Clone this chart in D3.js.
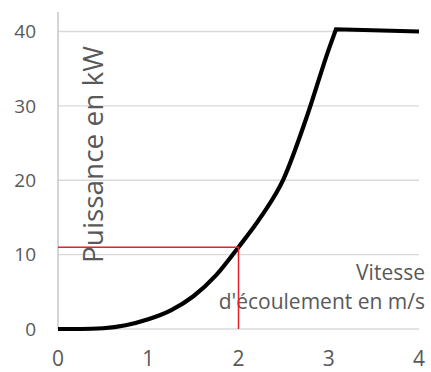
<!DOCTYPE html>
<html>
<head>
<meta charset="utf-8">
<script src="https://cdn.jsdelivr.net/npm/d3@7"></script>
<style>
  body { margin: 0; background: #fff; }
  text { font-family: "Open Sans", sans-serif; fill: #595959; }
</style>
</head>
<body>
<svg width="431" height="372"></svg>
<script>
// vitesse (m/s) et puissance (kW)
var vitesse   = [0, 0.25, 0.5, 0.75, 1, 1.25, 1.5, 1.75, 2, 2.25, 2.5, 2.75, 3, 3.08];
var puissance = [0, 0, 0.1, 0.5, 1.3, 2.5, 4.4, 7.2, 11.0, 15.1, 20.2, 28.3, 37.6, 40.3];
// palier apres la puissance nominale
var palierV = [3.08, 4];
var palierP = [40.3, 40.0];
var xTicks = [0, 1, 2, 3, 4];
var yTicks = [0, 10, 20, 30, 40];
var repereV = 2;
var repereP = 11;

function main() {
  var svg = d3.select("svg");

  var x = d3.scaleLinear().domain([0, 4]).range([58, 419]);
  var y = d3.scaleLinear().domain([0, 40]).range([329, 31.5]);

  // grille horizontale
  svg.selectAll(".grid")
    .data(yTicks)
    .enter()
    .append("line")
    .attr("x1", x(0))
    .attr("x2", x(4))
    .attr("y1", function(d) { return y(d); })
    .attr("y2", function(d) { return y(d); })
    .attr("stroke", "#d9d9d9")
    .attr("stroke-width", 1.3);

  // axe vertical
  svg.append("line")
    .attr("x1", x(0)).attr("x2", x(0))
    .attr("y1", y(0)).attr("y2", 12)
    .attr("stroke", "#bfbfbf")
    .attr("stroke-width", 1.3);

  // etiquettes y
  svg.selectAll(".ylab")
    .data(yTicks)
    .enter()
    .append("text")
    .attr("x", 36)
    .attr("y", function(d) { return y(d); })
    .attr("dy", "0.36em")
    .attr("text-anchor", "end")
    .style("font-size", "19px")
    .text(function(d) { return d; });

  // etiquettes x
  svg.selectAll(".xlab")
    .data(xTicks)
    .enter()
    .append("text")
    .attr("x", function(d) { return x(d); })
    .attr("y", 366)
    .attr("text-anchor", "middle")
    .style("font-size", "21px")
    .text(function(d) { return d; });

  // titres des axes
  svg.append("text")
    .attr("transform", "translate(103,263) rotate(-90)")
    .attr("textLength", 217)
    .attr("lengthAdjust", "spacingAndGlyphs")
    .style("font-size", "28px")
    .text("Puissance en kW");

  svg.append("text")
    .attr("x", 425)
    .attr("y", 280)
    .attr("text-anchor", "end")
    .style("font-size", "21px")
    .text("Vitesse");

  svg.append("text")
    .attr("x", 425)
    .attr("y", 309)
    .attr("text-anchor", "end")
    .style("font-size", "21px")
    .text("d'\u00e9coulement en m/s");

  // courbe de puissance
  var courbe = d3.line()
    .x(function(d, i) { return x(vitesse[i]); })
    .y(function(d) { return y(d); })
    .curve(d3.curveMonotoneX);

  var palier = d3.line()
    .x(function(d, i) { return x(palierV[i]); })
    .y(function(d) { return y(d); });

  svg.append("path")
    .datum(puissance)
    .attr("d", function(d) { return courbe(d) + palier(palierP).replace(/^M/, "L"); })
    .attr("fill", "none")
    .attr("stroke", "#000")
    .attr("stroke-width", 4.2)
    .attr("stroke-linejoin", "miter");

  // repere rouge
  svg.append("path")
    .attr("d", "M" + x(0) + "," + y(repereP) + "H" + x(repereV) + "V" + y(0))
    .attr("fill", "none")
    .attr("stroke", "#e8202a")
    .attr("stroke-width", 1.5);
}

main();
</script>
</body>
</html>
